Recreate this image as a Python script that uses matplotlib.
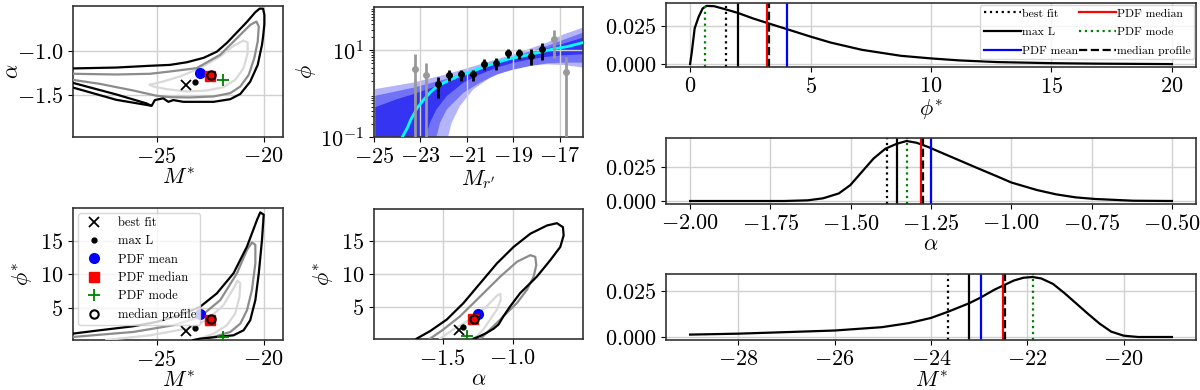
import numpy as np
import matplotlib
matplotlib.use('Agg')
import matplotlib.pyplot as plt

plt.rcParams.update({
    'font.family': 'serif',
    'font.serif': ['cmr10'],
    'mathtext.fontset': 'cm',
    'axes.formatter.use_mathtext': True,
    'font.size': 16,
    'axes.linewidth': 1.2,
    'axes.edgecolor': '0.2',
})

# point estimates: best fit, max L, PDF mean, PDF median, PDF mode, median profile
est_labels = ['best fit', 'max L', 'PDF mean', 'PDF median', 'PDF mode', 'median profile']
mstar_est = [-23.65, -23.21, -22.97, -22.50, -21.89, -22.46]
alpha_est = [-1.386, -1.356, -1.249, -1.282, -1.326, -1.276]
phistar_est = [1.49, 2.00, 4.02, 3.20, 0.61, 3.29]

# marginal PDFs
phi_grid = [0, 0.065, 0.19, 0.355, 0.52, 0.68, 1.0, 1.49, 1.97, 2.62, 3.26, 3.91, 5.0,
            5.84, 7.13, 8.75, 10.0, 11.17, 12.78, 15.0, 16.8, 20.0]
phi_pdf = [0, 0.0071, 0.0233, 0.0308, 0.0362, 0.0379, 0.0377, 0.0356, 0.0334, 0.0297, 0.0265,
           0.0233, 0.0179, 0.0140, 0.0093, 0.0054, 0.0037, 0.0024, 0.0013, 0.0006, 0.0003, 0.0]
alpha_grid = [-2.0, -1.707, -1.634, -1.586, -1.537, -1.501, -1.465, -1.429, -1.392, -1.356,
              -1.326, -1.295, -1.259, -1.223, -1.162, -1.102, -1.041, -1.0, -0.92, -0.86,
              -0.80, -0.74, -0.62, -0.5]
alpha_pdf = [0, 0, 0.0005, 0.002, 0.0056, 0.0118, 0.0216, 0.0314, 0.0387, 0.0424, 0.0444,
             0.0431, 0.040, 0.0363, 0.0301, 0.024, 0.0179, 0.0137, 0.0081, 0.0049, 0.0027,
             0.0015, 0.0002, 0]
mstar_grid = [-29.0, -28.0, -27.05, -26.0, -25.02, -24.46, -24.0, -23.65, -23.21, -22.97,
              -22.68, -22.5, -22.28, -22.08, -21.89, -21.71, -21.47, -21.23, -20.99, -20.75,
              -20.5, -20.26, -20.0, -19.7, -19.0]
mstar_pdf = [0.0013, 0.0018, 0.0026, 0.0035, 0.0053, 0.0075, 0.0103, 0.0136, 0.0182, 0.0213,
             0.0256, 0.0278, 0.0305, 0.0320, 0.0324, 0.0316, 0.0287, 0.0237, 0.0182, 0.0127,
             0.0072, 0.0029, 0.0007, 0, 0]

# luminosity function data
lf_m = [-22.25, -21.75, -21.25, -20.75, -20.25, -19.75, -19.25, -18.75, -18.25, -17.75]
lf_phi = [1.7, 2.7, 2.8, 2.8, 4.9, 5.2, 8.8, 8.8, 7.4, 10.5]
lf_hi = [2.4, 3.6, 3.6, 3.5, 6.2, 6.8, 10.9, 10.9, 10.5, 15.0]
lf_lo = [0.8, 2.0, 2.0, 2.0, 3.5, 3.6, 6.8, 6.4, 4.6, 5.9]
lf_m_out = [-23.25, -22.75, -17.25, -16.75]
lf_phi_out = [3.8, 2.7, 17.9, 3.2]
lf_hi_out = [8.4, 5.2, 29.0, 7.1]
lf_lo_out = [0.01, 0.01, 6.8, 0.01]

# best-fit curve
fit_m = [-23.78, -23.56, -23.42, -23.13, -22.85, -22.56, -22.27, -21.84, -21.41, -20.84,
         -20.26, -19.83, -19.26, -18.25, -17.82, -17.25, -16.67, -16.0]
fit_phi = [0.1, 0.164, 0.25, 0.475, 0.74, 1.09, 1.5, 1.95, 2.5, 3.2, 4.2, 5.0, 6.2, 8.1,
           9.1, 10.9, 12.2, 15.1]

# confidence bands (upper and lower edges)
b3_up_m = [-25.0, -23.31, -21.87, -20.43, -18.99, -17.55, -16.83, -16.0]
b3_up = [1.26, 1.8, 2.8, 4.75, 8.1, 15.0, 23.4, 33.4]
b3_lo_m = [-25.0, -21.95, -21.66, -21.30, -20.72, -20.0, -18.99, -18.27, -17.55, -16.83, -16.0]
b3_lo = [0.001, 0.05, 0.21, 0.52, 1.26, 2.34, 3.8, 4.5, 4.75, 4.6, 4.0]
b2_up_m = [-25.0, -23.31, -21.87, -20.43, -18.99, -17.55, -16.0]
b2_up = [0.88, 1.37, 2.2, 4.0, 7.1, 12.6, 25.6]
b2_lo_m = [-25.0, -22.45, -22.16, -21.87, -21.15, -20.43, -19.71, -18.99, -18.27, -17.55, -16.83, -16.0]
b2_lo = [0.001, 0.05, 0.21, 0.43, 1.05, 1.8, 2.8, 3.6, 4.35, 5.0, 5.2, 5.2]
b1_up_m = [-25.0, -24.03, -23.31, -21.87, -20.43, -18.99, -17.55, -16.0]
b1_up = [0.475, 0.74, 0.97, 1.8, 3.5, 6.8, 10.9, 19.6]
b1_lo_m = [-25.0, -22.92, -22.59, -22.31, -21.87, -21.15, -20.43, -19.71, -18.99, -18.27, -17.55, -16.83, -16.0]
b1_lo = [0.001, 0.05, 0.214, 0.435, 0.88, 1.8, 2.8, 4.0, 5.2, 6.2, 7.1, 7.7, 8.1]

# contours M* - alpha
ma_black_m = [-28.91, -26.88, -25.31, -24.38, -23.59, -22.81, -22.19, -21.72, -21.25, -20.78,
              -20.39, -20.19, -20.03, -19.97, -19.97, -20.03, -20.08, -20.28, -20.63, -21.09,
              -21.56, -22.34, -23.13, -23.75, -24.22, -24.45, -24.69, -25.08, -25.23, -26.88, -28.91]
ma_black_a = [-1.20, -1.19, -1.17, -1.16, -1.13, -1.08, -1.01, -0.91, -0.79, -0.67, -0.56,
              -0.52, -0.52, -0.59, -0.70, -0.84, -0.93, -1.16, -1.35, -1.49, -1.55, -1.58,
              -1.58, -1.58, -1.56, -1.58, -1.54, -1.56, -1.625, -1.557, -1.417]
ma_sliver_m = [-28.91, -26.88, -25.47, -25.28]
ma_sliver_a = [-1.364, -1.496, -1.598, -1.621]
ma_gray_m = [-28.91, -26.88, -25.31, -24.38, -23.13, -22.03, -21.25, -20.63, -20.34, -20.23,
             -20.28, -20.44, -20.70, -21.09, -21.56, -22.34, -23.44, -24.38, -25.0, -26.09,
             -27.66, -28.91]
ma_gray_a = [-1.261, -1.269, -1.261, -1.235, -1.197, -1.045, -0.856, -0.705, -0.667, -0.723,
             -0.894, -1.083, -1.273, -1.405, -1.481, -1.519, -1.530, -1.527, -1.511, -1.451,
             -1.375, -1.330]
ma_light_m = [-25.31, -24.69, -23.91, -22.97, -22.03, -21.41, -20.94, -20.75, -20.75, -20.94,
              -21.33, -21.88, -22.66, -23.59, -24.53, -25.16, -25.31]
ma_light_a = [-1.386, -1.348, -1.292, -1.197, -1.064, -0.943, -0.883, -0.905, -1.027, -1.197,
              -1.330, -1.413, -1.451, -1.462, -1.436, -1.405, -1.386]

# contours M* - phi*
mp_black_m = [-28.91, -27.66, -26.09, -25.0, -23.91, -22.97, -22.19, -21.41, -20.78, -20.31,
              -20.16, -20.0, -20.08, -20.23, -20.39, -20.63, -20.94, -21.41, -22.19, -22.97, -23.28]
mp_black_p = [1.15, 1.65, 2.25, 2.9, 3.9, 5.15, 7.15, 10.15, 14.15, 18.15, 19.25, 18.9, 15.15,
              10.15, 6.15, 3.15, 1.65, 0.9, 0.65, 0.4, 0.2]
mp_gray_m = [-28.91, -26.09, -24.22, -22.97, -22.03, -21.25, -20.78, -20.55, -20.39, -20.39,
             -20.55, -20.78, -21.09, -21.56, -22.34, -23.13]
mp_gray_p = [0.65, 1.4, 2.4, 3.65, 6.15, 10.15, 13.65, 14.75, 14.4, 11.65, 7.65, 4.65, 2.65,
             1.4, 0.65, 0.2]
mp_light_m = [-27.34, -25.31, -23.59, -22.66, -21.88, -21.41, -21.22, -21.09, -21.13, -21.33,
              -21.72, -22.34, -22.97, -23.20]
mp_light_p = [0.2, 0.9, 1.9, 3.15, 5.4, 7.9, 9.05, 8.65, 6.65, 4.15, 2.4, 1.15, 0.4, 0.2]

# contours alpha - phi*
ap_black_a = [-1.686, -1.590, -1.471, -1.352, -1.233, -1.114, -0.995, -0.876, -0.757, -0.686,
              -0.643, -0.638, -0.662, -0.733, -0.829, -0.948, -1.019, -1.067, -1.102, -1.138,
              -1.186, -1.233, -1.281]
ap_black_p = [0.25, 1.4, 3.15, 5.65, 8.65, 11.65, 14.15, 16.15, 17.4, 17.75, 17.15, 15.9, 14.15,
              12.15, 9.65, 7.15, 5.15, 3.65, 2.4, 1.75, 1.15, 0.65, 0.25]
ap_gray_a = [-1.590, -1.495, -1.376, -1.233, -1.090, -0.971, -0.876, -0.840, -0.833, -0.852,
             -0.900, -0.971, -1.043, -1.090, -1.114, -1.162, -1.210, -1.233]
ap_gray_p = [0.25, 1.65, 3.65, 6.65, 9.65, 11.9, 12.9, 12.65, 11.4, 9.65, 7.65, 5.65, 4.15,
             3.15, 2.65, 1.65, 0.65, 0.25]
ap_light_a = [-1.519, -1.424, -1.305, -1.186, -1.114, -1.090, -1.086, -1.114, -1.162, -1.210,
              -1.257, -1.281]
ap_light_p = [0.25, 1.65, 3.15, 5.15, 6.75, 7.05, 6.15, 4.65, 3.15, 1.65, 0.65, 0.25]

# styles
marker_styles = [dict(marker='x', color='k', ms=7, mew=1.3),
                 dict(marker='.', color='k', ms=7),
                 dict(marker='o', color='b', ms=7),
                 dict(marker='s', color='r', ms=6.5),
                 dict(marker='+', color='g', ms=8, mew=1.3),
                 dict(marker='o', mfc='none', mec='k', ms=6, mew=1.5)]
line_styles = [dict(color='k', ls=':'), dict(color='k', ls='-'), dict(color='b', ls='-'),
               dict(color='r', ls='-'), dict(color='g', ls=':'), dict(color='k', ls='--')]
GRID = dict(color='0.82', lw=1)
C_BLACK, C_GRAY, C_LIGHT = 'k', '0.55', '0.85'

W, H = 1200, 390
fig = plt.figure(figsize=(W / 100, H / 100), dpi=100)


def px_axes(l, t, r, b):
    return fig.add_axes([l / W, 1 - b / H, (r - l) / W, (b - t) / H])


def scatter_estimates(ax, xs, ys, legend=False):
    for x, y, lab, st in zip(xs, ys, est_labels, marker_styles):
        ax.plot([x], [y], ls='none', label=lab, zorder=5, **st)
    if legend:
        ax.legend(loc='upper left', fontsize=9, numpoints=1, handletextpad=0.9,
                  borderaxespad=0.4, labelspacing=0.5, borderpad=0.3)


def contour_lines(ax, paths):
    for xs, ys, c in paths:
        ax.plot(xs, ys, color=c, lw=1.6, zorder=3)


# --- M* vs alpha
ax = px_axes(73, 6, 283, 137)
contour_lines(ax, [(ma_light_m, ma_light_a, C_LIGHT), (ma_gray_m, ma_gray_a, C_GRAY),
                   (ma_black_m, ma_black_a, C_BLACK), (ma_sliver_m, ma_sliver_a, C_BLACK)])
scatter_estimates(ax, mstar_est, alpha_est)
ax.set_xlim(-28.9, -19.1)
ax.set_ylim(-1.98, -0.49)
ax.set_xticks([-25, -20])
ax.set_yticks([-1.5, -1.0])
ax.grid(True, **GRID)
ax.set_xlabel(r'$M^{*}$', labelpad=1)
ax.set_ylabel(r'$\alpha$')
ax.yaxis.set_label_coords(-0.24, 0.5)

# --- luminosity function
ax = px_axes(374, 7, 583, 137)
ax.set_yscale('log')
for um, u, lm, lo, col in [(b3_up_m, b3_up, b3_lo_m, b3_lo, '#b4b4fb'),
                           (b2_up_m, b2_up, b2_lo_m, b2_lo, '#7272f7'),
                           (b1_up_m, b1_up, b1_lo_m, b1_lo, '#3434f2')]:
    ax.fill(list(um) + list(lm[::-1]), list(u) + list(lo[::-1]), color=col, lw=0, zorder=1)
ax.plot(fit_m, fit_phi, color='cyan', lw=2, zorder=3)
ax.errorbar(lf_m_out, lf_phi_out,
            yerr=[np.subtract(lf_phi_out, lf_lo_out), np.subtract(lf_hi_out, lf_phi_out)],
            fmt='o', color='0.6', ms=4, elinewidth=2, capsize=0, zorder=4)
ax.errorbar(lf_m, lf_phi, yerr=[np.subtract(lf_phi, lf_lo), np.subtract(lf_hi, lf_phi)],
            fmt='o', color='k', ms=4, elinewidth=2, capsize=0, zorder=5)
ax.set_xlim(-25, -16)
ax.set_ylim(0.1, 100)
ax.set_xticks([-25, -23, -21, -19, -17])
ax.set_yticks([0.1, 10])
ax.grid(True, which='major', **GRID)
ax.set_xlabel(r"$M_{r'}$", labelpad=1)
ax.set_ylabel(r'$\phi$')
ax.yaxis.set_label_coords(-0.27, 0.5)

# --- M* vs phi*
ax = px_axes(73, 208, 283, 340)
contour_lines(ax, [(mp_light_m, mp_light_p, C_LIGHT), (mp_gray_m, mp_gray_p, C_GRAY),
                   (mp_black_m, mp_black_p, C_BLACK)])
scatter_estimates(ax, mstar_est, phistar_est, legend=True)
ax.set_xlim(-28.9, -19.1)
ax.set_ylim(0.2, 19.9)
ax.set_xticks([-25, -20])
ax.set_yticks([5, 10, 15])
ax.grid(True, **GRID)
ax.set_xlabel(r'$M^{*}$', labelpad=1)
ax.set_ylabel(r'$\phi^{*}$')
ax.yaxis.set_label_coords(-0.18, 0.5)

# --- alpha vs phi*
ax = px_axes(374, 209, 583, 339)
contour_lines(ax, [(ap_light_a, ap_light_p, C_LIGHT), (ap_gray_a, ap_gray_p, C_GRAY),
                   (ap_black_a, ap_black_p, C_BLACK)])
scatter_estimates(ax, alpha_est, phistar_est)
ax.set_xlim(-1.99, -0.5)
ax.set_ylim(0.2, 19.9)
ax.set_xticks([-1.5, -1.0])
ax.set_yticks([5, 10, 15])
ax.grid(True, **GRID)
ax.set_xlabel(r'$\alpha$', labelpad=1)
ax.set_ylabel(r'$\phi^{*}$')
ax.yaxis.set_label_coords(-0.18, 0.5)

# --- marginal PDFs
pdf_panels = [((666, 3, 1196, 67), phi_grid, phi_pdf, phistar_est, r'$\phi^{*}$',
               [0, 5, 10, 15, 20]),
              ((666, 138, 1196, 204), alpha_grid, alpha_pdf, alpha_est, r'$\alpha$',
               [-2.0, -1.75, -1.5, -1.25, -1.0, -0.75, -0.5]),
              ((666, 274, 1196, 340), mstar_grid, mstar_pdf, mstar_est, r'$M^{*}$',
               [-28, -26, -24, -22, -20])]
for i, (box, xg, pg, ests, xlabel, xt) in enumerate(pdf_panels):
    ax = px_axes(*box)
    ax.plot(xg, pg, color='k', lw=1.6)
    for v, lab, st in zip(ests, est_labels, line_styles):
        ax.axvline(v, lw=1.6, label=lab, **st)
    ax.set_xticks(xt)
    ax.set_yticks([0, 0.025])
    ax.yaxis.set_major_formatter(matplotlib.ticker.FormatStrFormatter(r'$%.3f$'))
    if i == 1:
        ax.xaxis.set_major_formatter(matplotlib.ticker.FormatStrFormatter(r'$%.2f$'))
    ax.grid(True, **GRID)
    ax.set_xlabel(xlabel, labelpad=1)
    if i == 0:
        ax.legend(loc='upper right', ncol=2, fontsize=8.5, handlelength=3.2,
                  handletextpad=0.05, columnspacing=0.05, borderaxespad=0.15,
                  labelspacing=0.7, borderpad=0.3)

fig.savefig('out.png', dpi=100)
